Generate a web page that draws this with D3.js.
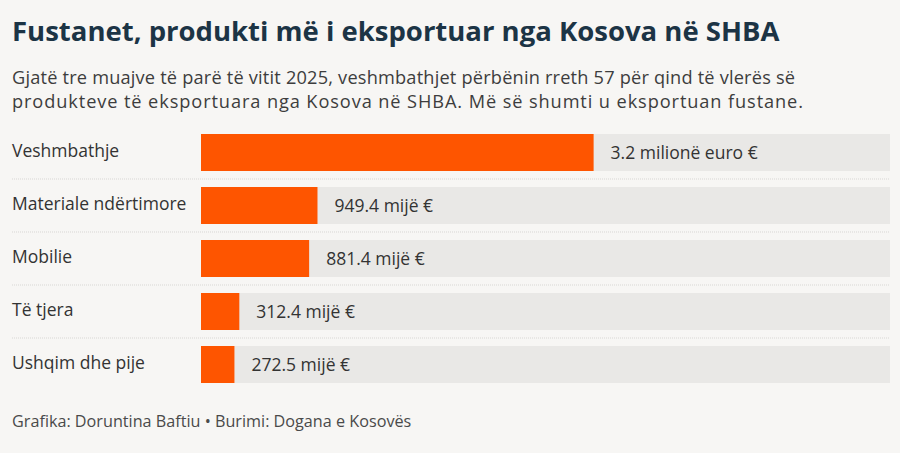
<!DOCTYPE html>
<html>
<head>
<meta charset="utf-8">
<script src="https://cdn.jsdelivr.net/npm/d3@7"></script>
<style>
  body { margin: 0; background: #f7f6f4; }
  text { font-family: "Open Sans", "Noto Sans", sans-serif; }
</style>
</head>
<body>
<div id="chart"></div>
<script>
var categories = ['Veshmbathje', 'Materiale ndërtimore', 'Mobilie', 'Të tjera', 'Ushqim dhe pije'];
var values = [3200, 949.4, 881.4, 312.4, 272.5]; // thousand euro
var valueLabels = ['3.2 milionë euro €', '949.4 mijë €', '881.4 mijë €', '312.4 mijë €', '272.5 mijë €'];

var fullWidth = 900, fullHeight = 453;
var margin = {left: 201};
var trackEnd = 890;

var svg = d3.select('#chart').append('svg')
  .attr('width', fullWidth)
  .attr('height', fullHeight);

svg.append('rect').attr('width', fullWidth).attr('height', fullHeight).attr('fill', '#f7f6f4');

// title + subtitle
svg.append('text')
  .attr('x', 12).attr('y', 41)
  .style('font-size', '27.5px').style('font-weight', 700)
  .attr('fill', '#1c3445')
  .text('Fustanet, produkti më i eksportuar nga Kosova në SHBA');

var sub = ['Gjatë tre muajve të parë të vitit 2025, veshmbathjet përbënin rreth 57 për qind të vlerës së',
           'produkteve të eksportuara nga Kosova në SHBA. Më së shumti u eksportuan fustane.'];
var subWidth = [783, 791];
svg.selectAll('text.sub').data(sub).enter().append('text')
  .classed('sub', true)
  .attr('x', 12).attr('y', function(d, i) { return 84 + i * 24; })
  .attr('textLength', function(d, i) { return subWidth[i]; })
  .attr('lengthAdjust', 'spacing')
  .style('font-size', '18.2px').attr('fill', '#3d3d3d')
  .text(function(d) { return d; });

// total of all categories = whole track
var total = d3.sum(values);
var x = d3.scaleLinear().domain([0, total]).range([margin.left, trackEnd]);
var y = d3.scaleBand().domain(categories).range([134, 383]).paddingInner(0.302).paddingOuter(0);
var bh = y.bandwidth();
var step = y.step();

var rows = svg.selectAll('g.row').data(categories).enter().append('g').classed('row', true);

// separators
rows.filter(function(d, i) { return i < categories.length - 1; })
  .append('line')
  .attr('x1', 12).attr('x2', trackEnd)
  .attr('y1', function(d) { return y(d) + bh + (step - bh) / 2; })
  .attr('y2', function(d) { return y(d) + bh + (step - bh) / 2; })
  .attr('stroke', '#d8d7d4').attr('stroke-width', 1).attr('stroke-dasharray', '1,1');

rows.append('rect')
  .attr('x', x(0)).attr('width', x(total) - x(0))
  .attr('y', function(d) { return y(d); }).attr('height', bh)
  .attr('fill', '#e9e8e6');

rows.append('rect')
  .attr('x', x(0))
  .attr('width', function(d, i) { return x(values[i]) - x(0); })
  .attr('y', function(d) { return y(d); }).attr('height', bh)
  .attr('fill', '#fe5500');

rows.append('text')
  .attr('x', 12)
  .attr('y', function(d) { return y(d) + bh / 2 - 2; })
  .attr('dy', '0.35em')
  .style('font-size', '17.5px').attr('fill', '#333')
  .text(function(d) { return d; });

rows.append('text')
  .attr('x', function(d, i) { return x(values[i]) + 17; })
  .attr('y', function(d) { return y(d) + bh / 2; })
  .attr('dy', '0.35em')
  .style('font-size', '17.5px').attr('fill', '#333')
  .text(function(d, i) { return valueLabels[i]; });

svg.append('text')
  .attr('x', 12).attr('y', 427)
  .style('font-size', '16.2px').attr('fill', '#4a4a4a')
  .text('Grafika: Doruntina Baftiu • Burimi: Dogana e Kosovës');
</script>
</body>
</html>
